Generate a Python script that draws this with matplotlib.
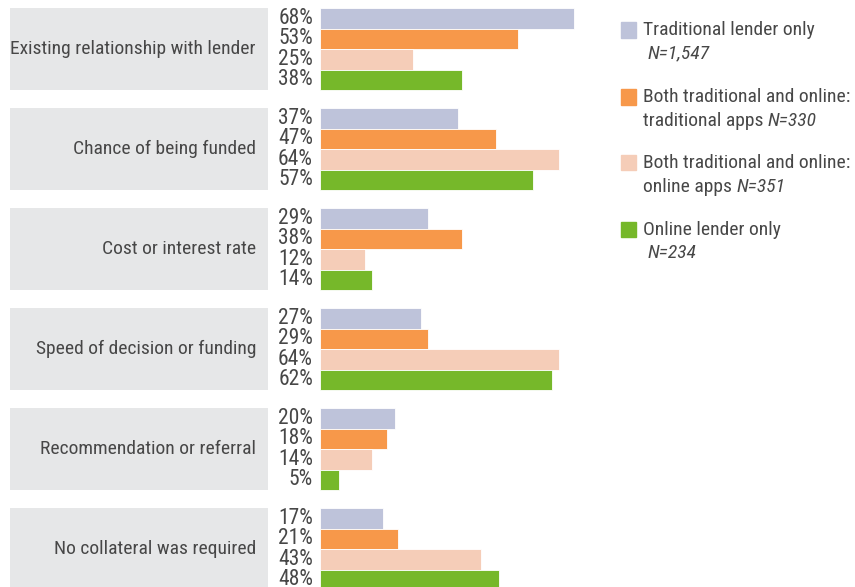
import numpy as np
import matplotlib
matplotlib.use("Agg")
import matplotlib.pyplot as plt

# ── Daten ─────────────────────────────────────────────────────────────────────
kategorien = [
    "Existing relationship with lender",
    "Chance of being funded",
    "Cost or interest rate",
    "Speed of decision or funding",
    "Recommendation or referral",
    "No collateral was required",
]
traditionell = [68, 37, 29, 27, 20, 17]
beide_trad = [53, 47, 38, 29, 18, 21]
beide_online = [25, 64, 12, 64, 14, 43]
online = [38, 57, 14, 62, 5, 48]

serien = [traditionell, beide_trad, beide_online, online]
farben = ["#bec3da", "#f7984a", "#f5cdb8", "#76b82a"]
legende_zeile1 = ["Traditional lender only", "Both traditional and online:",
                  "Both traditional and online:", "Online lender only"]
legende_zeile2 = ["", "traditional apps ", "online apps ", ""]
legende_n = ["N=1,547", "N=330", "N=351", "N=234"]

plt.rcParams["font.family"] = ["Roboto Condensed", "Archivo Narrow",
                               "Liberation Sans Narrow", "DejaVu Sans"]
textfarbe = "#474747"
fs = 14

W, H = 855, 587
fig = plt.figure(figsize=(W / 100, H / 100), dpi=100)
ax = fig.add_axes([0, 0, 1, 1])

px = 3.735          # Pixel pro Prozentpunkt
x0 = 320            # Pixel, wo die Balken beginnen
bar_px = 20.5       # Balkenhöhe in Pixel
ax.set_xlim(-x0 / px, (W - x0) / px)
ax.set_ylim((H - 8) / bar_px, -8 / bar_px)
ax.axis("off")

gruppen_abstand = 100 / bar_px

for g, kat in enumerate(kategorien):
    oben = g * gruppen_abstand
    # grauer Kasten links
    ax.barh(oben + 2, (268 - 10) / px, left=(10 - x0) / px, height=3.97,
            color="#e6e7e8", clip_on=False)
    ax.text((256 - x0) / px, oben + 2, kat, ha="right", va="center",
            fontsize=fs, color=textfarbe)
    for i, (werte, farbe) in enumerate(zip(serien, farben)):
        y = oben + i + 0.5
        ax.barh(y, werte[g], height=1.0, color=farbe, edgecolor="white",
                linewidth=0.6)
        ax.text((313 - x0) / px, y, f"{werte[g]}%", ha="right", va="center",
                fontsize=15.5, color=textfarbe)

# ── Legende ───────────────────────────────────────────────────────────────────
zeilen_y = [30, 97, 163, 230]
for k in range(4):
    y1 = zeilen_y[k]
    y2 = y1 + 23.5
    fig.patches.append(plt.Rectangle((621 / W, 1 - (y1 + 7.5) / H), 15 / W, 15 / H,
                                     transform=fig.transFigure, color=farben[k]))
    fig.text(643 / W, 1 - y1 / H, legende_zeile1[k], ha="left", va="center",
             fontsize=fs, color=textfarbe)
    if legende_zeile2[k]:
        t = fig.text(643 / W, 1 - y2 / H, legende_zeile2[k], ha="left",
                     va="center", fontsize=fs, color=textfarbe)
        ax.annotate(legende_n[k], xy=(1, 0.5), xycoords=t, ha="left",
                    va="center", fontsize=fs, color=textfarbe, style="italic")
    else:
        fig.text(648 / W, 1 - y2 / H, legende_n[k], ha="left", va="center",
                 fontsize=fs, color=textfarbe, style="italic")

plt.savefig("out.png", dpi=100)
